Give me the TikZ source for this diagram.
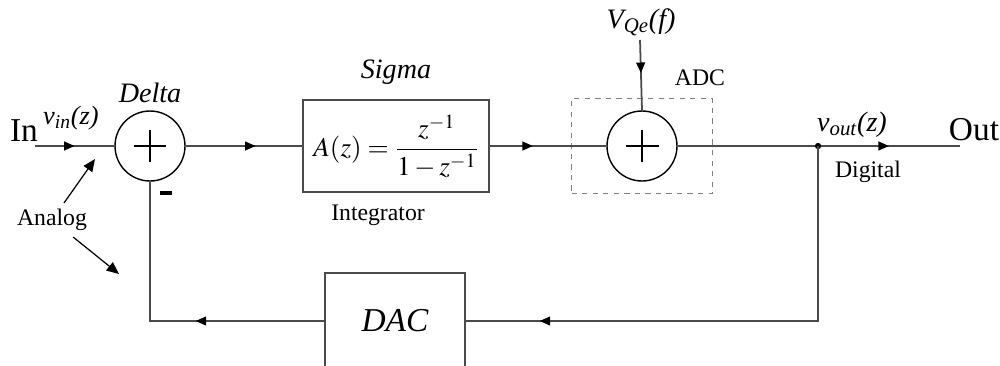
\documentclass[tikz,border=0pt]{standalone}
\usepackage{amsmath}
\usepackage{mathptmx}
\usepackage{fontspec}
\setmainfont{Liberation Serif}
\usepackage{tikz}
\usetikzlibrary{arrows.meta, decorations.markings}
\definecolor{lineColor}{HTML}{4A4A4A}

\tikzset{
    sumnode/.style={draw, circle, line width=0.8pt, minimum size=1.4cm, inner sep=0pt,
        path picture={\draw[line width=0.8pt]
            ([xshift=-0.33cm]path picture bounding box.center) -- ([xshift=0.33cm]path picture bounding box.center)
            ([yshift=-0.33cm]path picture bounding box.center) -- ([yshift=0.33cm]path picture bounding box.center);}},
    blockbox/.style={draw=lineColor, line width=1pt, inner sep=0pt},
    sig/.style={draw=lineColor, line width=1pt},
    midarrow/.style={postaction={decorate}, decoration={markings,
        mark=at position #1 with {\arrow[black]{Triangle[length=6pt,width=5pt]}}}},
    pointer/.style={draw, line width=0.7pt, -{Triangle[length=7pt,width=6pt]}},
    lbl/.style={font=\fontsize{13.5}{15}\selectfont},
    ilbl/.style={font=\fontsize{16}{18}\selectfont\itshape},
    biglbl/.style={font=\fontsize{19}{21}\selectfont},
}

\begin{document}
\begin{tikzpicture}[x=0.02cm, y=-0.02cm]
    \clip (0,0) rectangle (1000,365);
    % blocks
    \node[sumnode] (delta) at (150,146) {};
    \node[blockbox, minimum width=3.72cm, minimum height=1.84cm] (sigma) at (396,146)
        {\fontsize{15.5}{18}\selectfont $A(z)=\dfrac{z^{-1}}{1-z^{-1}}$};
    \node[draw=gray, dashed, thin, minimum width=2.82cm, minimum height=1.9cm] (adcbox) at (642,146) {};
    \node[sumnode] (adc) at (642,146) {};
    \node[blockbox, minimum width=2.8cm, minimum height=1.92cm,
        font=\fontsize{19}{21}\selectfont\itshape] (dac) at (395,321) {DAC};
    \coordinate (in) at (35,146);
    \coordinate (vq) at (640,40);
    \coordinate (j) at (818,146);
    \coordinate (out) at (960,146);

    % labels
    \node[biglbl] (inlbl) at (24,131) {In};
    \node[font=\fontsize{15}{17}\selectfont\itshape] (vin) at (71,118) {v\textsubscript{in}(z)};
    \node[ilbl] (deltalbl) at (150,93) {Delta};
    \node[inner sep=0pt] (minus) at (166,193) {\rule{0.25cm}{0.07cm}};
    \node[ilbl] (sigmalbl) at (396,72) {Sigma};
    \node[lbl] (intlbl) at (378,215) {Integrator};
    \node[lbl] (adclbl) at (700,78) {ADC};
    \node[ilbl] (vqlbl) at (641,22) {V\textsubscript{Qe}(f)};
    \node[ilbl] (voutlbl) at (852,125) {v\textsubscript{out}(z)};
    \node[lbl] (diglbl) at (868,172) {Digital};
    \node[biglbl] (outlbl) at (974,130) {Out};
    \node[lbl] (analog) at (52,220) {Analog};
    \coordinate (ain) at (95,159);
    \coordinate (afb) at (119,274);

    % signal path
    \draw[sig, midarrow=0.5] (in) -- (delta.west);
    \draw[sig, midarrow=0.6] (delta.east) -- (sigma.west);
    \draw[sig, midarrow=0.37] (sigma.east) -- (adc.west);
    \draw[sig, midarrow=0.47] (vq) -- (adc.north);
    \draw[sig] (adc.east) -- (j);
    \draw[sig, midarrow=0.5] (j) -- (out);
    \fill (j) circle (1.8pt);

    % feedback
    \draw[sig, midarrow=0.86] (j) |- (dac.east);
    \draw[sig, midarrow=0.41] (dac.west) -| (delta.south);

    % analog pointers
    \draw[pointer] (analog) -- (ain);
    \draw[pointer] (analog) -- (afb);
\end{tikzpicture}
\end{document}
